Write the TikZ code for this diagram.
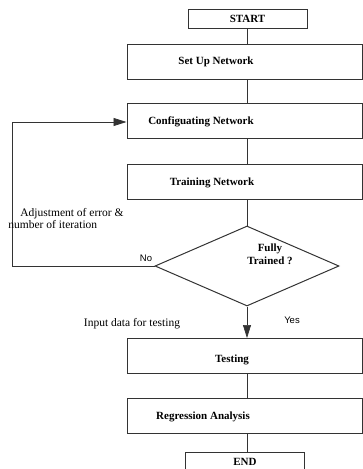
\documentclass[tikz,border=0pt]{standalone}
\usepackage{fontspec}
\setmainfont{Liberation Serif}
\newfontfamily\answerfont{Liberation Sans}
\usetikzlibrary{arrows.meta, positioning, shapes.geometric}

\begin{document}
\begin{tikzpicture}[x=1pt, y=-1pt,
    box/.style={draw=black!80, line width=1pt, inner sep=0pt},
    termbox/.style={box, minimum width=119pt, minimum height=19pt, font=\bfseries\fontsize{11}{12}\selectfont},
    procbox/.style={box, minimum width=235pt, minimum height=35pt},
    decision/.style={box, diamond, minimum width=184pt, minimum height=80pt},
    steptext/.style={inner sep=0pt, font=\bfseries\fontsize{11}{12.5}\selectfont},
    note/.style={inner sep=0pt, font=\fontsize{11.5}{12}\selectfont, align=left},
    answer/.style={inner sep=0pt, font=\answerfont\fontsize{9.5}{10}\selectfont},
    link/.style={draw=black!80, line width=0.7pt},
    arrow/.style={link, -{Triangle[length=13pt, width=8pt]}}
]
    \useasboundingbox (0,0) rectangle (363,469);
    \clip (0,0) rectangle (363,469);

    % Boxes down the main column.
    \node[termbox] (start) at (247.5, 18.5) {START};
    \node[procbox] (setup) at (244.5, 61.5) {};
    \node[procbox] (config) at (244.5, 121) {};
    \node[procbox] (train) at (244.5, 181.5) {};
    \node[decision] (trained) at (247, 266) {};
    \node[procbox] (test) at (244.5, 356) {};
    \node[procbox] (regress) at (244.5, 416) {};
    \node[termbox] (finish) at (245, 461.5) {END};

    % Box texts sit a little left of centre, as printed.
    \node[steptext] (setuptext) at (216, 62) {Set Up Network};
    \node[steptext] (configtext) at (201, 122) {Configuating Network};
    \node[steptext] (traintext) at (212, 183) {Training Network};
    \node[steptext, align=center] (trainedtext) at (270, 254.5) {Fully\\Trained ?};
    \node[steptext] (testtext) at (232, 360) {Testing};
    \node[steptext] (regresstext) at (203, 417) {Regression Analysis};

    % Main flow.
    \draw[link] (start.south -| 247,0) -- (setup.north -| 247,0);
    \draw[link] (setup.south -| 247,0) -- (config.north -| 247,0);
    \draw[link] (config.south -| 247,0) -- (train.north -| 247,0);
    \draw[link] (train.south -| 247,0) -- (trained.north);
    \draw[arrow] (trained.south) -- (test.north -| trained.south);
    \draw[link] (test.south -| 247,0) -- (regress.north -| 247,0);
    \draw[link] (regress.south -| 247,0) -- (finish.north -| 247,0);

    % Loop back when training is not finished.
    \coordinate (loopbottom) at (12, 266);
    \coordinate (looptop) at (12, 122);
    \draw[link] (trained.west) -- (loopbottom) -- (looptop);
    \draw[arrow] (looptop) -- (config.west |- looptop);

    \node[note] (adjust) at (66, 219) {\hspace*{12pt}Adjustment of error \&\\number of iteration};
    \node[answer] (no) at (146, 258) {No};
    \node[answer] (yes) at (292, 320) {Yes};
    \node[note] (inputdata) at (132, 324) {Input data for testing};
\end{tikzpicture}
\end{document}
